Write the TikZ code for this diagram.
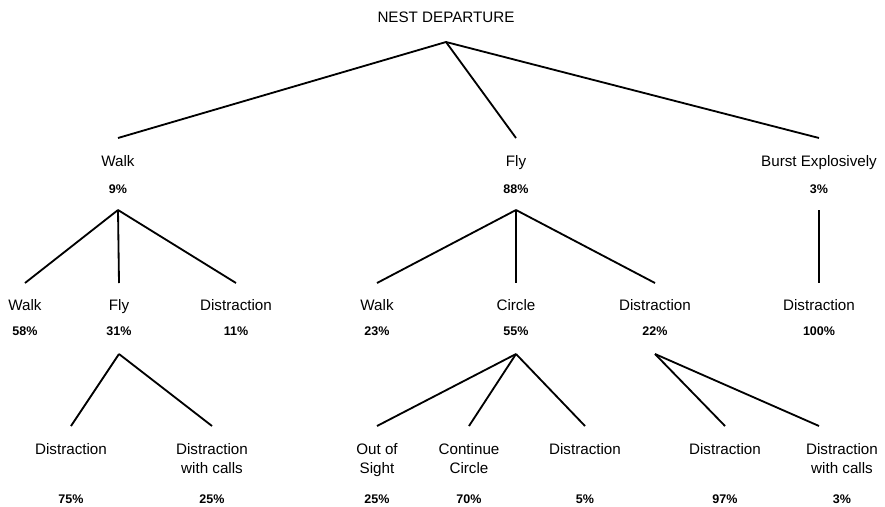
\documentclass[tikz,border=0pt]{standalone}
\usepackage{fontspec}
\setmainfont{Liberation Sans}
\begin{document}
\begin{tikzpicture}[x=0.025cm,y=-0.025cm,line width=1.3pt,line join=round]
\tikzset{act/.style={anchor=base,inner sep=0pt,align=center,font=\fontsize{10.8}{13.5}\selectfont},
  pct/.style={anchor=base,inner sep=0pt,font=\fontsize{8.9}{10}\selectfont\bfseries}}
\useasboundingbox (0,0) rectangle (885,506);

\node[act] (nest) at (446,22) {NEST DEPARTURE};
\coordinate (nest-out) at (446,42);

% first choice
\foreach \n/\x/\t/\p in {walk/118/Walk/9, fly/516/Fly/88, burst/819/Burst Explosively/3}{
  \node[act] (\n) at (\x,166) {\t};
  \node[pct] (\n-p) at (\x,193) {\p\%};
  \coordinate (\n-in) at (\x,138);
  \coordinate (\n-out) at (\x,210);
}

% second choice
\foreach \n/\x/\t/\p in {wwalk/25/Walk/58, wfly/119/Fly/31, wdis/236/Distraction/11,
  fwalk/377/Walk/23, circle/516/Circle/55, fdis/655/Distraction/22, bdis/819/Distraction/100}{
  \node[act] (\n) at (\x,310) {\t};
  \node[pct] (\n-p) at (\x,335) {\p\%};
  \coordinate (\n-in) at (\x,283);
  \coordinate (\n-out) at (\x,354);
}

% third choice (two-line labels hang from the top)
\foreach \n/\x/\t/\p in {wfdis/71/Distraction/75, wfcall/212/{Distraction\\with calls}/25,
  sight/377/{Out of\\Sight}/25, cont/469/{Continue\\Circle}/70, cdis/585/Distraction/5,
  ddis/725/Distraction/97, dcall/842/{Distraction\\with calls}/3}{
  \node[act,anchor=north] (\n) at (\x,442.5) {\t};
  \node[pct] (\n-p) at (\x,503) {\p\%};
  \coordinate (\n-in) at (\x,426);
}
\coordinate (dcall-in) at (819,426);

\foreach \a/\b in {nest/walk, nest/fly, nest/burst, walk/wwalk, walk/wfly, walk/wdis,
  fly/fwalk, fly/circle, fly/fdis, burst/bdis, wfly/wfdis, wfly/wfcall,
  circle/sight, circle/cont, circle/cdis, fdis/ddis, fdis/dcall}
  \draw (\a-out) -- (\b-in);
\end{tikzpicture}
\end{document}
